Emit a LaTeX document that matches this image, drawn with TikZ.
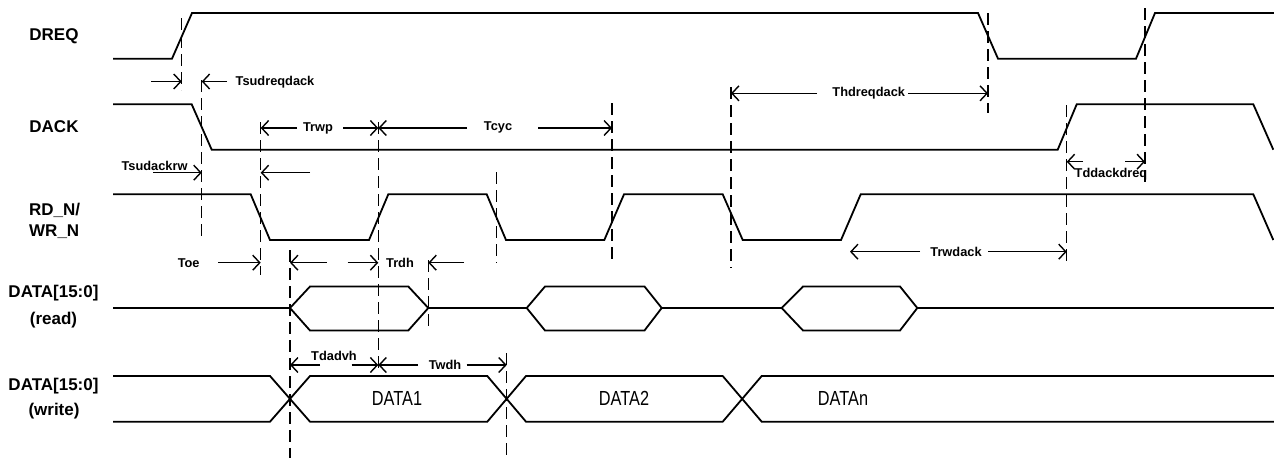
\documentclass[tikz,border=0pt]{standalone}
\usepackage{fontspec}
\setmainfont{Liberation Sans}
\usetikzlibrary{arrows.meta}
\begin{document}
\begin{tikzpicture}[x=1pt,y=-1pt,
  sig/.style={line width=1.8pt, line join=miter},
  guide/.style={line width=1.4pt, dash pattern=on 12pt off 6pt},
  dimarrow/.style={line width=1.4pt, -{Straight Barb[length=7pt,width=15pt]}},
  siglabel/.style={font=\fontsize{17}{20}\selectfont\bfseries, inner sep=0pt},
  tlabel/.style={font=\fontsize{12.8}{15}\selectfont\bfseries, inner sep=0pt},
  dlabel/.style={font=\fontsize{16.3}{19}\selectfont, inner sep=0pt}]
\fill[white] (0,0) rectangle (1274,458);
\useasboundingbox (0,0) rectangle (1274,458);

% signal names
\node[siglabel] (lDREQ) at (54,36) {DREQ};
\node[siglabel] (lDACK) at (54,127) {DACK};
\node[siglabel,anchor=west] (lRD) at (29,210) {RD\_N/};
\node[siglabel,anchor=west] (lWR) at (29,231.5) {WR\_N};
\node[siglabel] (lDR) at (53.5,293) {DATA[15:0]};
\node[siglabel] (lDRr) at (53.5,320) {(read)};
\node[siglabel] (lDW) at (53.5,386) {DATA[15:0]};
\node[siglabel] (lDWw) at (54,411.5) {(write)};

% waveforms
\draw[sig] (113,58.7) -- (172,58.7) -- (192,13) -- (978,13) -- (998,58.7) -- (1136,58.7) -- (1155,13) -- (1274,13);
\draw[sig] (113,104.3) -- (191.7,104.3) -- (211.7,149.7) -- (1057.7,149.7) -- (1076.7,104.3) -- (1253.3,104.3) -- (1273.3,149.7);
\draw[sig] (113,194.3) -- (250.7,194.3) -- (270,240) -- (369,240) -- (388.3,194.3) -- (486.7,194.3) -- (506,240) -- (604.3,240) -- (624,194.3) -- (722.7,194.3) -- (742.7,240) -- (841,240) -- (860.7,194.3) -- (1253.3,194.3) -- (1273.3,240);
% data read
\draw[sig] (113,308) -- (290,308);
\draw[sig] (290,308) -- (310,286.5) -- (408.3,286.5) -- (428.3,308) -- (408.3,330.5) -- (310,330.5) -- cycle;
\draw[sig] (428.3,308) -- (526.7,308);
\draw[sig] (526.7,308) -- (545,286.5) -- (644.5,286.5) -- (661.7,308) -- (644.5,330.5) -- (545,330.5) -- cycle;
\draw[sig] (661.7,308) -- (781.7,308);
\draw[sig] (781.7,308) -- (803,286.5) -- (900,286.5) -- (917.3,308) -- (900,330.5) -- (803,330.5) -- cycle;
\draw[sig] (917.3,308) -- (1274,308);
% data write
\draw[sig] (113,376) -- (270,376) -- (310,421.7) -- (487.3,421.7) -- (526,376) -- (722.7,376) -- (761.7,421.7) -- (1274,421.7);
\draw[sig] (113,421.7) -- (270,421.7) -- (310,376) -- (487.3,376) -- (526,421.7) -- (722.7,421.7) -- (761.7,376) -- (1274,376);
\node[dlabel] (d1) at (397,398.5) {\scalebox{1}[1.25]{DATA1}};
\node[dlabel] (d2) at (624,398.5) {\scalebox{1}[1.25]{DATA2}};
\node[dlabel] (dn) at (843,398.5) {\scalebox{1}[1.25]{DATAn}};

% dashed guides
\foreach \n/\x/\a/\b in {1/181.7/18/90, 2/201.7/80/240, 3/260.7/122/275, 4/290/250/458,
  5/378.3/122/372, 6/428.3/260/330, 7/496.7/172/263, 8/506.7/353/455, 9/612/103/263,
  10/731/87/268, 11/988/13/113, 12/1066.7/105/263, 13/1145/8/182}{
  \coordinate (g\n t) at (\x,\a);
  \coordinate (g\n b) at (\x,\b);
  \draw[guide] (g\n t) -- (g\n b);
}

% dimension arrows (tail, tip, y)
\foreach \n/\xa/\xb/\y in {1/151/181.7/81.5, 2/227/201.7/81.5, 3/153/201.7/172.7, 4/310/260.7/172.7,
  5/297/260.7/128, 6/343/378.3/128, 7/467/378.3/128, 8/538/612/128,
  9/817/731/93.3, 10/908/988/93.3, 11/1083/1066.7/161.7, 12/1125/1145/161.7,
  13/218/260.7/262.7, 14/326.7/290/262.7, 15/347.7/378.3/262.7, 16/464/428.3/262.7,
  17/920/850/251.7, 18/988/1066.7/251.7,
  19/320/290/365, 20/351.7/378.3/365, 21/418/378.3/365, 22/466.7/506.7/365}{
  \coordinate (d\n s) at (\xa,\y);
  \coordinate (d\n e) at (\xb,\y);
  \draw[dimarrow] (d\n s) -- (d\n e);
}

% timing labels
\node[tlabel] (t1) at (275,82) {Tsudreqdack};
\node[tlabel] (t2) at (154.5,166) {Tsudackrw};
\node[tlabel] (t3) at (318,128) {Trwp};
\node[tlabel] (t4) at (498,127) {Tcyc};
\node[tlabel] (t5) at (868.7,93) {Thdreqdack};
\node[tlabel] (t6) at (1111,174) {Tddackdreq};
\node[tlabel] (t7) at (188.7,262.7) {Toe};
\node[tlabel] (t8) at (400,262.5) {Trdh};
\node[tlabel] (t9) at (956,251.7) {Trwdack};
\node[tlabel] (t10) at (334,355.5) {Tdadvh};
\node[tlabel] (t11) at (445,365) {Twdh};
\end{tikzpicture}
\end{document}
